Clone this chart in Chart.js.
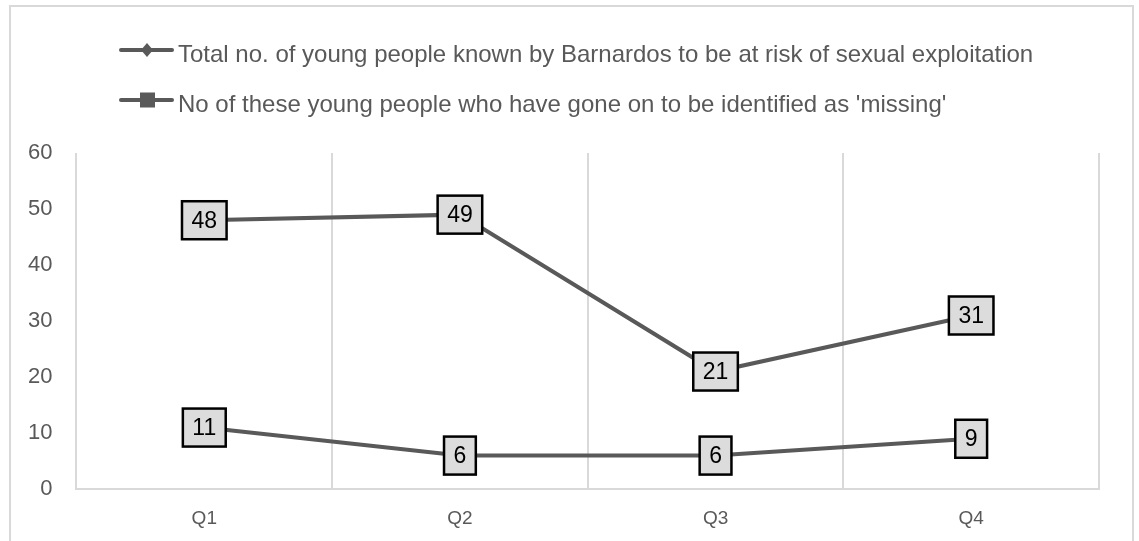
<!DOCTYPE html>
<html>
<head>
<meta charset="utf-8">
<script src="https://cdn.jsdelivr.net/npm/chart.js@4"></script>
<style>
  html, body { margin: 0; padding: 0; background: #fff; }
  #chart { display: block; }
</style>
</head>
<body>
<canvas id="chart" width="1139" height="541"></canvas>
<script>
const quarters = ['Q1', 'Q2', 'Q3', 'Q4'];
const seriesNames = [
  'Total no. of young people known by Barnardos to be at risk of sexual exploitation',
  "No of these young people who have gone on to be identified as 'missing'"
];
const totalKnown = [48, 49, 21, 31];
const goneMissing = [11, 6, 6, 9];
const yTicks = [0, 10, 20, 30, 40, 50, 60];

const lineColor = '#595959';
const textColor = '#595959';
const gridColor = '#d9d9d9';
const fontFamily = '"Liberation Sans", Arial, sans-serif';

// ---------- 枠線・凡例・ラベル ----------
const decorPlugin = {
  id: 'decor',
  beforeDraw(chart) {
    const ctx = chart.ctx;
    ctx.save();
    ctx.strokeStyle = gridColor;
    ctx.lineWidth = 2;
    ctx.strokeRect(10, 6, 1123, 600);
    ctx.restore();
  },
  afterDraw(chart) {
    const ctx = chart.ctx;
    ctx.save();

    // legend
    const rows = [50, 100];
    chart.data.datasets.forEach((ds, i) => {
      const y = rows[i];
      ctx.strokeStyle = lineColor;
      ctx.fillStyle = lineColor;
      ctx.lineWidth = 4;
      ctx.lineCap = 'round';
      ctx.beginPath();
      ctx.moveTo(121, y);
      ctx.lineTo(172, y);
      ctx.stroke();
      if (ds.legendMarker === 'diamond') {
        ctx.beginPath();
        ctx.moveTo(147, y - 7);
        ctx.lineTo(153, y);
        ctx.lineTo(147, y + 7);
        ctx.lineTo(141, y);
        ctx.closePath();
        ctx.fill();
      } else {
        ctx.fillRect(140, y - 7.5, 15, 15);
      }
      ctx.font = '24px ' + fontFamily;
      ctx.textAlign = 'left';
      ctx.textBaseline = 'alphabetic';
      ctx.fillStyle = textColor;
      ctx.fillText(ds.label, 178, y + 11.5);
    });

    // data labels
    ctx.font = '23px ' + fontFamily;
    ctx.textAlign = 'center';
    ctx.textBaseline = 'middle';
    chart.data.datasets.forEach((ds, i) => {
      const meta = chart.getDatasetMeta(i);
      meta.data.forEach((pt, j) => {
        const txt = String(ds.data[j]);
        const w = ctx.measureText(txt).width + 19;
        const h = 38;
        ctx.fillStyle = '#dcdcdc';
        ctx.fillRect(pt.x - w / 2, pt.y - h / 2, w, h);
        ctx.strokeStyle = '#000';
        ctx.lineWidth = 2.5;
        ctx.strokeRect(pt.x - w / 2, pt.y - h / 2, w, h);
        ctx.fillStyle = '#000';
        ctx.fillText(txt, pt.x, pt.y + 1);
      });
    });
    ctx.restore();
  }
};

new Chart(document.getElementById('chart'), {
  type: 'line',
  data: {
    labels: quarters,
    datasets: [
      {
        label: seriesNames[0],
        data: totalKnown,
        borderColor: lineColor,
        borderWidth: 4,
        pointRadius: 0,
        legendMarker: 'diamond'
      },
      {
        label: seriesNames[1],
        data: goneMissing,
        borderColor: lineColor,
        borderWidth: 4,
        pointRadius: 0,
        legendMarker: 'square'
      }
    ]
  },
  options: {
    responsive: false,
    animation: false,
    layout: { padding: { left: 4, top: 153, right: 40, bottom: -7 } },
    plugins: {
      legend: { display: false },
      tooltip: { enabled: false }
    },
    scales: {
      x: {
        offset: true,
        grid: { offset: true, color: gridColor, lineWidth: 2, drawTicks: false },
        border: { color: gridColor, width: 2 },
        ticks: { color: textColor, font: { family: fontFamily, size: 19 }, padding: 18 }
      },
      y: {
        min: 0,
        max: 60,
        afterBuildTicks(scale) { scale.ticks = yTicks.map(v => ({ value: v })); },
        grid: { display: false, drawTicks: false },
        border: { display: false },
        ticks: { color: textColor, font: { family: fontFamily, size: 22 }, padding: 24 }
      }
    }
  },
  plugins: [decorPlugin]
});
</script>
</body>
</html>
